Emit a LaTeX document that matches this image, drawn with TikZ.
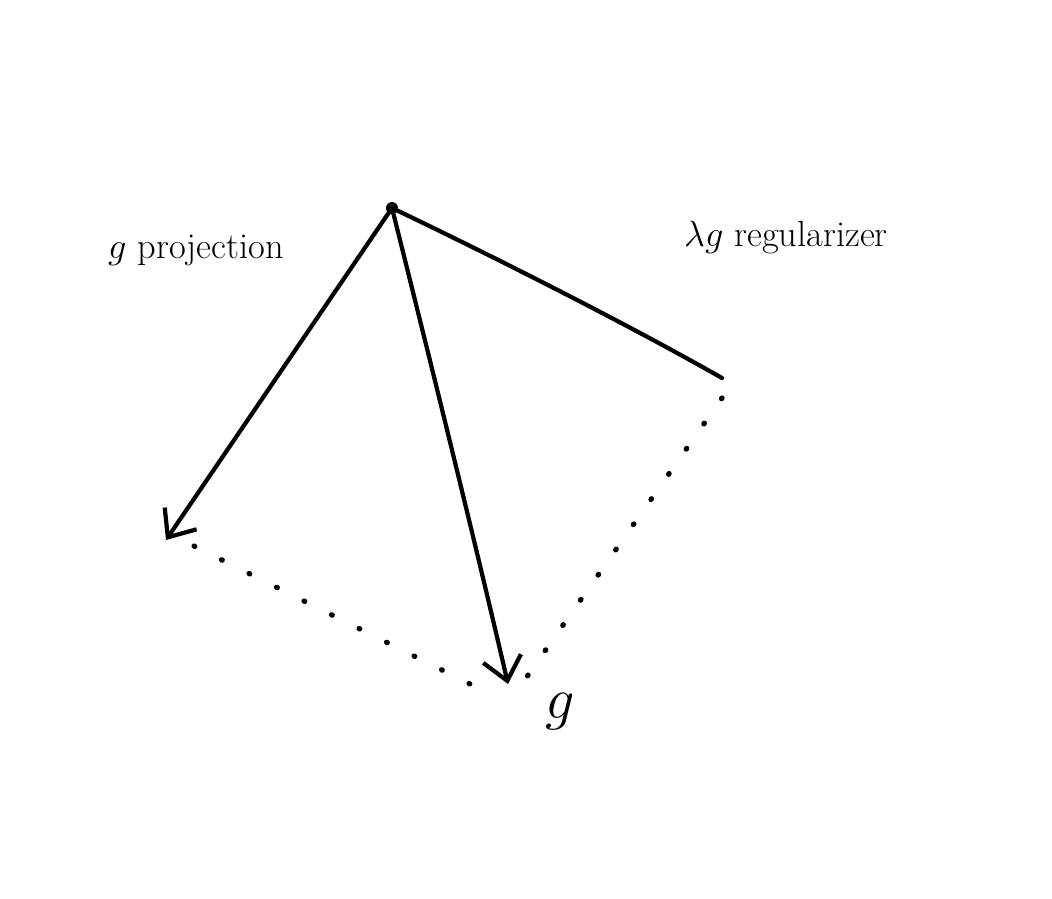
\documentclass[tikz,border=0pt]{standalone}
\usepackage{amsmath, amssymb}
\usepackage{tikz}
\usetikzlibrary{arrows.meta,calc}

\begin{document}
\begin{tikzpicture}[x=0.02cm,y=-0.02cm,>={Straight Barb[length=13pt,width=22pt]},
	vec/.style={line width=2.4pt,line cap=round},
	proj/.style={line width=3pt,line cap=round,dash pattern=on 0.5pt off 17pt},
	lbl/.style={font=\huge}]
	\useasboundingbox (0,0) rectangle (1052,899);
	\coordinate (O) at (392,208);
	\coordinate (P) at (166,540);
	\coordinate (G) at (508,684);
	\coordinate (R) at (722,378);
	\fill (O) circle (6);
	\draw[vec,->] (O) -- (P);
	\draw[vec,->] (O) .. controls (415,300) and (470,520) .. (G);
	\draw[vec] (O) .. controls (480,250) and (620,320) .. (R);
	\draw[proj] ($(P)+(28,6)$) -- ($(G)+(-22,8)$);
	\draw[proj] ($(R)+(0,20)$) -- ($(G)+(18,-6)$);
	\node[lbl] (lp) at (196,250) {$g$ projection};
	\node[lbl] (lr) at (786,238) {$\lambda g$ regularizer};
	\node[lbl,scale=1.6] (lg) at (560,712) {$g$};
\end{tikzpicture}
\end{document}
